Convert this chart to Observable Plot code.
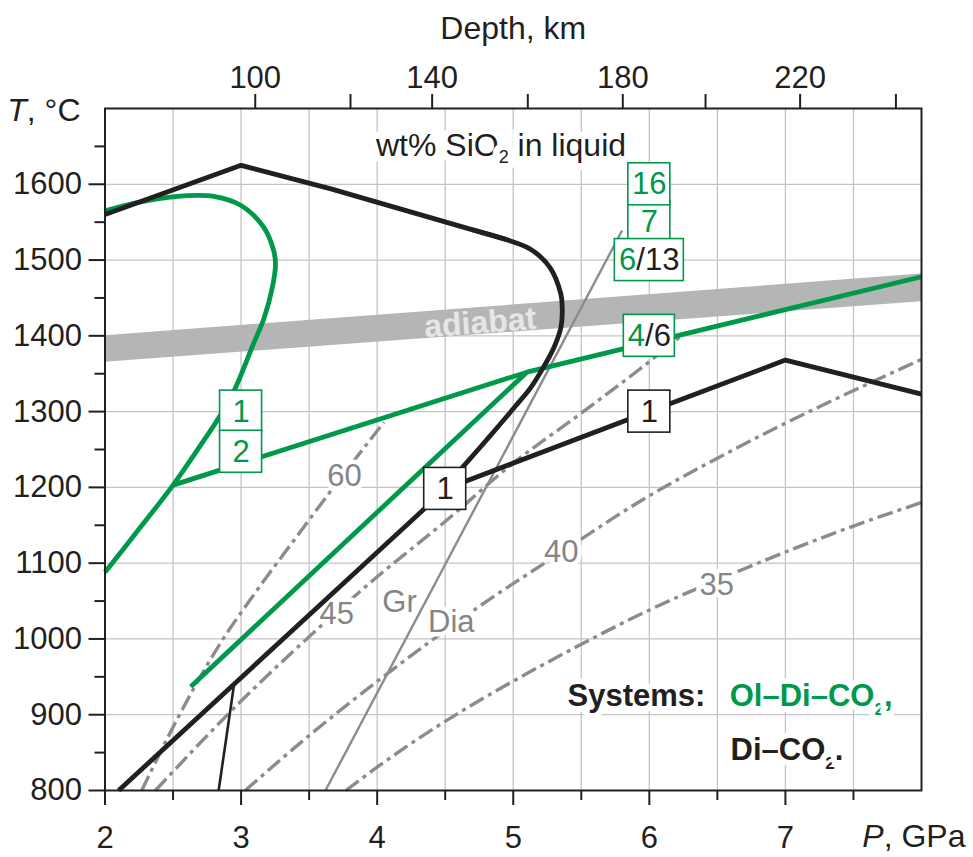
<!DOCTYPE html>
<html>
<head>
<meta charset="utf-8">
<script src="https://cdn.jsdelivr.net/npm/d3@7"></script>
<script src="https://cdn.jsdelivr.net/npm/@observablehq/plot@0.6"></script>
<style>
html,body{margin:0;padding:0;background:#fff;}
#chart svg{display:block;}
</style>
</head>
<body>
<div id="chart"></div>
<script>
// ---------------- data: P in GPa, T in °C ----------------
const xMajor = [2, 3, 4, 5, 6, 7];
const xMinor = [2.5, 3.5, 4.5, 5.5, 6.5, 7.5];
const xGrid = [2.5, 3, 3.5, 4, 4.5, 5, 5.5, 6, 6.5, 7, 7.5];
const yMajor = [800, 900, 1000, 1100, 1200, 1300, 1400, 1500, 1600];
const yMinor = [850, 950, 1050, 1150, 1250, 1350, 1450, 1550, 1650];
const yGrid = [900, 1000, 1100, 1200, 1300, 1400, 1500, 1600];
const depthKm = [100, 120, 140, 160, 180, 200, 220, 240];
const depthAtP = [3.104, 3.804, 4.404, 5.107, 5.805, 6.413, 7.108, 7.812];
const depthLabelled = [100, 140, 180, 220];

const adiabatP = [2, 8];
const adiabatLow = [1365, 1445];
const adiabatHigh = [1400, 1481.5];

// Di–CO2 system (black)
const diTopP = [2.0, 3.0, 3.66, 4.95];
const diTopT = [1560, 1625, 1594, 1527];
const diBendP = [4.7, 4.95, 5.13, 5.27, 5.35, 5.36, 5.35, 5.30, 5.22, 5.13, 5.02, 4.83, 4.625];
const diBendT = [1540, 1527, 1514, 1490, 1455, 1437, 1411, 1385, 1358, 1332, 1308, 1268, 1226];
const diLowP = [2.1, 4.355, 4.625];
const diLowT = [800, 1173, 1226];
const diSolP = [4.5, 6.0, 7.0, 8.0];
const diSolT = [1198, 1300, 1368, 1323];
const diThinP = [2.835, 2.95];
const diThinT = [800, 942];

// Ol–Di–CO2 system (green)
const olLoopP = [2.0, 2.25, 2.5, 2.7, 2.85, 2.95, 3.09, 3.17, 3.23, 3.253, 3.24, 3.167, 3.0, 2.8, 2.6, 2.3, 2.0];
const olLoopT = [1088, 1145, 1203, 1255, 1296, 1328, 1389, 1424, 1464, 1495, 1512, 1543, 1572, 1584, 1585, 1578, 1565];
const olMidP = [2.5, 5.1, 8.0];
const olMidT = [1203, 1352, 1478];
const olLowP = [2.63, 5.1];
const olLowT = [937, 1352];

// wt% SiO2 isopleths (grey dash-dot)
const iso60P = [2.27, 2.45, 2.65, 2.85, 3.1, 3.4, 3.7, 4.05];
const iso60T = [800, 866, 934, 995, 1060, 1133, 1205, 1286];
const iso45P = [2.37, 3.0, 3.5, 4.0, 4.5, 5.0, 5.5, 6.0, 6.22];
const iso45T = [800, 918, 1003, 1082, 1155, 1232, 1298, 1366, 1398];
const iso40P = [3.03, 3.51, 4.0, 4.735, 5.35, 5.935, 6.6, 8.0];
const iso40T = [800, 874, 944, 1041, 1114, 1182, 1248, 1369];
const iso35P = [3.77, 4.025, 5.49, 6.01, 6.69, 7.5, 8.0];
const iso35T = [800, 834, 992, 1039, 1092, 1149, 1180];

// graphite–diamond
const grDiaP = [3.62, 5.80];
const grDiaT = [800, 1539];

// labels
const isoLabelText = ["60", "45", "40", "35", "Gr", "Dia"];
const isoLabelP = [3.759, 3.703, 5.353, 6.496, 4.164, 4.545];
const isoLabelT = [1215.4, 1032.8, 1114.8, 1071.2, 1048.7, 1022.3];

const greenBoxText = ["7", "16", "1", "2"];
const greenBoxP = [6.0, 6.0, 3.0, 3.0];
const greenBoxT = [1550, 1600, 1300, 1247];
const blackBoxText = ["1", "1"];
const blackBoxP = [4.5, 6.0];
const blackBoxT = [1198, 1300];
const splitBoxGreen = ["6", "4"];
const splitBoxBlack = ["/13", "/6"];
const splitBoxP = [6.0, 6.0];
const splitBoxT = [1500, 1400];

// ---------------- styling ----------------
const ink = "#231f20", green = "#00984a", gray = "#8c8c8c", gridC = "#c4c4c4", bandC = "#b4b6b5", labelGray = "#858585";
const FT = 30, FS = 31;
const pts = (P, T) => P.map((p, i) => ({P: p, T: T[i]}));
const depthMap = new Map(depthAtP.map((p, i) => [p, depthKm[i]]));

const isoStyle = {x: "P", y: "T", stroke: gray, strokeWidth: 3.4, strokeDasharray: "16,5,4,5", strokeLinecap: "butt", curve: "monotone-x"};

function boxRect(data, w, stroke) {
  return Plot.rect(data, {x1: "P", x2: "P", y1: "T", y2: "T",
    insetLeft: -w / 2, insetRight: -w / 2, insetTop: -21, insetBottom: -21,
    fill: "white", stroke, strokeWidth: 1.6});
}
const gBoxes = pts(greenBoxP, greenBoxT).map((d, i) => ({...d, label: greenBoxText[i]}));
const bBoxes = pts(blackBoxP, blackBoxT).map((d, i) => ({...d, label: blackBoxText[i]}));
const sBoxes = pts(splitBoxP, splitBoxT).map((d, i) => ({...d, g: splitBoxGreen[i], b: splitBoxBlack[i]}));

const boxMarks = [];
gBoxes.forEach((d) => {
  boxMarks.push(boxRect([d], 42, green));
  boxMarks.push(Plot.text([d], {x: "P", y: "T", text: "label", fill: green, fontSize: FS, lineAnchor: "middle"}));
  if (d.label === "16") {
    boxMarks.push(boxRect([sBoxes[0]], 69, green));
    boxMarks.push(Plot.text([sBoxes[0]], {x: "P", y: "T", text: "g", fill: green, fontSize: FS, textAnchor: "end", dx: -13, lineAnchor: "middle"}));
    boxMarks.push(Plot.text([sBoxes[0]], {x: "P", y: "T", text: "b", fill: ink, fontSize: FS, textAnchor: "start", dx: -13, lineAnchor: "middle"}));
    boxMarks.push(boxRect([sBoxes[1]], 51, green));
    boxMarks.push(Plot.text([sBoxes[1]], {x: "P", y: "T", text: "g", fill: green, fontSize: FS, textAnchor: "end", dx: -4.3, lineAnchor: "middle"}));
    boxMarks.push(Plot.text([sBoxes[1]], {x: "P", y: "T", text: "b", fill: ink, fontSize: FS, textAnchor: "start", dx: -4.3, lineAnchor: "middle"}));
  }
});
bBoxes.forEach((d) => {
  boxMarks.push(boxRect([d], 42, ink));
  boxMarks.push(Plot.text([d], {x: "P", y: "T", text: "label", fill: ink, fontSize: FS, lineAnchor: "middle"}));
});

const halo = {stroke: "white", strokeWidth: 9, strokeLinejoin: "round"};

const chart = Plot.plot({
  width: 973,
  height: 857,
  marginLeft: 104.5,
  marginRight: 52,
  marginTop: 108,
  marginBottom: 67,
  x: {domain: [2, 8], axis: null},
  y: {domain: [800, 1700], axis: null},
  style: {fontFamily: "'Liberation Sans', Arial, Helvetica, sans-serif", background: "white", color: ink},
  marks: [
    Plot.gridX(xGrid, {stroke: gridC, strokeOpacity: 1, strokeWidth: 1.3}),
    Plot.gridY(yGrid, {stroke: gridC, strokeOpacity: 1, strokeWidth: 1.3}),

    // adiabat band
    Plot.areaY(pts(adiabatP, adiabatLow).map((d, i) => ({...d, T2: adiabatHigh[i]})),
      {x: "P", y1: "T", y2: "T2", fill: bandC}),
    Plot.text([{P: 4.757, T: 1417.2}], {x: "P", y: "T", text: () => "adiabat", fill: "#e6e6e6",
      fontSize: 32, fontWeight: "bold", rotate: -4.37, lineAnchor: "middle"}),

    // isopleths
    Plot.line(pts(iso60P, iso60T), isoStyle),
    Plot.line(pts(iso45P, iso45T), isoStyle),
    Plot.line(pts(iso40P, iso40T), isoStyle),
    Plot.line(pts(iso35P, iso35T), isoStyle),
    Plot.line(pts(grDiaP, grDiaT), {x: "P", y: "T", stroke: gray, strokeWidth: 2.4, strokeLinecap: "butt"}),
    Plot.text(pts(isoLabelP, isoLabelT).map((d, i) => ({...d, s: isoLabelText[i]})),
      {x: "P", y: "T", text: "s", fill: labelGray, fontSize: FS, lineAnchor: "middle", ...halo}),

    // Ol–Di–CO2 (green)
    Plot.line(pts(olLoopP, olLoopT), {x: "P", y: "T", stroke: green, strokeWidth: 4.8, curve: "catmull-rom", strokeLinecap: "butt"}),
    Plot.line(pts(olMidP, olMidT), {x: "P", y: "T", stroke: green, strokeWidth: 4.8, strokeLinecap: "butt"}),
    Plot.line(pts(olLowP, olLowT), {x: "P", y: "T", stroke: green, strokeWidth: 4.8, strokeLinecap: "butt"}),

    // Di–CO2 (black)
    Plot.line(pts(diTopP, diTopT), {x: "P", y: "T", stroke: ink, strokeWidth: 4.8, strokeLinejoin: "miter", strokeLinecap: "butt"}),
    Plot.line(pts(diBendP, diBendT), {x: "P", y: "T", stroke: ink, strokeWidth: 4.8, curve: "catmull-rom", strokeLinecap: "butt"}),
    Plot.line(pts(diLowP, diLowT), {x: "P", y: "T", stroke: ink, strokeWidth: 4.8, strokeLinecap: "butt"}),
    Plot.line(pts(diSolP, diSolT), {x: "P", y: "T", stroke: ink, strokeWidth: 4.8, strokeLinejoin: "miter", strokeLinecap: "butt"}),
    Plot.line(pts(diThinP, diThinT), {x: "P", y: "T", stroke: ink, strokeWidth: 2.6, strokeLinecap: "butt"}),

    ...boxMarks,

    // annotations
    Plot.text([{P: 4.910, T: 1637.8}], {x: "P", y: "T", text: () => "wt% SiO2 in liquid", fill: ink, fontSize: 32, lineAnchor: "bottom", ...halo, strokeWidth: 14}),
    Plot.text([{P: 5.399, T: 911}], {x: "P", y: "T", text: () => "Systems:", fill: ink, fontSize: FS, fontWeight: "bold", textAnchor: "start", lineAnchor: "bottom", ...halo, strokeWidth: 12}),
    Plot.text([{P: 6.591, T: 911}], {x: "P", y: "T", text: () => "Ol–Di–CO2,", fill: green, fontSize: FS, fontWeight: "bold", textAnchor: "start", lineAnchor: "bottom", ...halo, strokeWidth: 12}),
    Plot.text([{P: 6.597, T: 840.6}], {x: "P", y: "T", text: () => "Di–CO2.", fill: ink, fontSize: FS, fontWeight: "bold", textAnchor: "start", lineAnchor: "bottom", ...halo, strokeWidth: 12}),

    // axis titles
    Plot.text([0], {frameAnchor: "top-left", text: () => "T, °C", fill: ink, fontSize: 32, textAnchor: "end", lineAnchor: "bottom", dx: -24.5, dy: 12}),
    Plot.text([0], {frameAnchor: "top", text: () => "Depth, km", fill: ink, fontSize: 32, lineAnchor: "bottom", dy: -69.7}),
    Plot.text([0], {frameAnchor: "bottom-right", text: () => "P, GPa", fill: ink, fontSize: 32, textAnchor: "end", lineAnchor: "bottom", dx: 44, dy: 56.5}),

    // axes
    Plot.axisX(xMajor, {anchor: "bottom", tickSize: 15, tickPadding: 20, fontSize: 31, color: ink, strokeWidth: 2, tickFormat: (d) => String(d), label: null}),
    Plot.axisX(xMinor, {anchor: "bottom", tickSize: 10, color: ink, strokeWidth: 2, tickFormat: () => "", label: null}),
    Plot.axisY(yMajor, {anchor: "left", tickSize: 16, tickPadding: 7, fontSize: 31, color: ink, strokeWidth: 2, tickFormat: (d) => String(d), label: null}),
    Plot.axisY(yMinor, {anchor: "left", tickSize: 10, color: ink, strokeWidth: 2, tickFormat: () => "", label: null}),
    Plot.axisX(depthAtP, {anchor: "top", tickSize: 15, tickPadding: 6, fontSize: 31, color: ink, strokeWidth: 2,
      tickFormat: (d) => (depthLabelled.includes(depthMap.get(d)) ? String(depthMap.get(d)) : ""), label: null}),
    Plot.frame({stroke: ink, strokeWidth: 2})
  ]
});

// rich text: italics and subscripts
const rich = {
  "T, °C": '<tspan font-style="italic">T</tspan>, °C',
  "P, GPa": '<tspan font-style="italic">P</tspan>, GPa',
  "wt% SiO2 in liquid": 'wt% SiO<tspan font-size="18" dy="7">2</tspan><tspan dy="-7"> in liquid</tspan>',
  "Ol–Di–CO2,": 'Ol–Di–CO<tspan font-size="17" dy="9">2</tspan><tspan dy="-9">,</tspan>',
  "Di–CO2.": 'Di–CO<tspan font-size="17" dy="9">2</tspan><tspan dy="-9">.</tspan>'
};
chart.querySelectorAll("text").forEach((t) => {
  const s = t.textContent;
  if (rich[s] !== undefined) t.innerHTML = rich[s];
});
document.getElementById("chart").appendChild(chart);
</script>
</body>
</html>
